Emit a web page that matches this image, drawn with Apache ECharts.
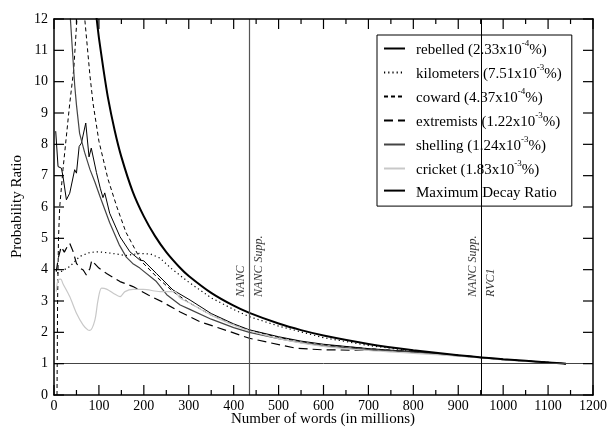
<!DOCTYPE html>
<html>
<head>
<meta charset="utf-8">
<script src="https://cdn.jsdelivr.net/npm/echarts@6/dist/echarts.min.js"></script>
<style>
html, body { margin: 0; padding: 0; background: #fff; }
#chart { width: 610px; height: 429px; }
</style>
</head>
<body>
<div id="chart"></div>
<script>
// values
const rebelledX = [3.8, 9, 16.5, 20, 27.6, 35, 39, 46, 50, 56, 61, 70.7, 78, 83, 94.5, 103, 109, 113, 124, 147, 169, 191, 200, 228, 265, 303, 350, 400, 435, 500, 550, 600, 700, 800, 900, 952, 1000, 1100, 1140]
const rebelledY = [8.42, 7.29, 7.24, 6.98, 6.23, 6.44, 6.5, 7.19, 7.08, 7.93, 8.04, 8.68, 7.6, 7.88, 7.1, 6.6, 6.3, 6.45, 5.8, 5.05, 4.57, 4.31, 4.28, 3.88, 3.35, 3.03, 2.6, 2.27, 2.08, 1.86, 1.72, 1.62, 1.48, 1.38, 1.26, 1.19, 1.13, 1.04, 1.0]

const kilometersX = [7, 16, 35, 57, 80, 100, 130, 160, 190, 215, 236, 260, 300, 350, 400, 435, 500, 600, 700, 800, 900, 952, 1000, 1100, 1140]
const kilometersY = [3.89, 3.94, 4.1, 4.42, 4.55, 4.57, 4.52, 4.45, 4.52, 4.5, 4.37, 4.05, 3.6, 3.1, 2.73, 2.5, 2.2, 1.83, 1.58, 1.4, 1.26, 1.19, 1.13, 1.04, 1.0]

const cowardX = [6.7, 8, 10, 12.7, 20, 35, 44, 51, 56, 64, 68.5, 80, 87, 100, 120, 140, 160, 195, 230, 265, 300, 350, 400, 435, 500, 550, 600, 700, 800, 900, 952, 1000, 1100, 1140]
const cowardY = [0, 3, 5, 6, 7.2, 9.3, 10.4, 12, 13.5, 13.5, 12, 10.2, 9.3, 8.1, 6.9, 6.0, 5.2, 4.26, 3.75, 3.3, 2.95, 2.55, 2.24, 2.07, 1.84, 1.7, 1.6, 1.48, 1.38, 1.26, 1.19, 1.13, 1.04, 1.0]

const extremistsX = [5, 10, 16, 19, 23, 30, 35, 42, 50, 58, 65, 72, 80, 84, 90, 100, 117, 147, 176, 210, 240, 281, 325, 392, 435, 503, 540, 600, 700, 800, 900, 952, 1000, 1100, 1140]
const extremistsY = [3.94, 4.4, 4.73, 4.77, 4.56, 4.75, 4.84, 4.6, 4.2, 4.05, 3.99, 3.83, 4.04, 4.3, 4.2, 4.05, 3.88, 3.62, 3.46, 3.19, 2.98, 2.65, 2.34, 2.02, 1.81, 1.6, 1.49, 1.44, 1.43, 1.38, 1.27, 1.2, 1.14, 1.04, 1.0]

const shellingX = [28, 36.5, 46, 50, 57, 68, 80, 91, 102, 124, 145, 161, 175, 191, 228, 251, 281, 300, 350, 400, 435, 500, 550, 600, 700, 800, 900, 952, 1000, 1100, 1140]
const shellingY = [14, 12, 9.9, 9.26, 8.35, 7.75, 7.2, 6.8, 6.35, 5.5, 4.8, 4.4, 4.2, 4.05, 3.62, 3.2, 2.87, 2.75, 2.42, 2.15, 2.0, 1.8, 1.67, 1.57, 1.45, 1.37, 1.25, 1.19, 1.13, 1.04, 1.0]

const cricketX = [5, 9, 15, 20, 35, 50, 65, 76, 80, 91, 98, 106, 117, 132, 147, 158, 176, 199, 236, 269, 280, 300, 350, 400, 435, 500, 600, 700, 800, 900, 952, 1000, 1100, 1140]
const cricketY = [3.3, 3.67, 3.7, 3.55, 3.14, 2.61, 2.23, 2.07, 2.06, 2.39, 3.03, 3.41, 3.38, 3.25, 3.14, 3.3, 3.37, 3.37, 3.3, 3.3, 3.1, 2.95, 2.55, 2.23, 2.05, 1.8, 1.55, 1.42, 1.33, 1.24, 1.18, 1.12, 1.03, 1.0]

const maxDecayX = [90, 95, 100, 110, 120, 135, 150, 175, 200, 225, 250, 280, 300, 350, 400, 435, 500, 550, 600, 700, 800, 900, 952, 1000, 1100, 1140]
const maxDecayY = [12.7, 12.0, 11.4, 10.4, 9.5, 8.45, 7.6, 6.5, 5.7, 5.07, 4.56, 4.07, 3.8, 3.26, 2.85, 2.62, 2.28, 2.07, 1.9, 1.63, 1.43, 1.27, 1.2, 1.14, 1.04, 1.0]

const freqs = {
  rebelled: ['2.33', '-4'],
  kilometers: ['7.51', '-3'],
  coward: ['4.37', '-4'],
  extremists: ['1.22', '-3'],
  shelling: ['1.24', '-3'],
  cricket: ['1.83', '-3']
}

// tick positions (drawn inward on all four sides)
const xTicks = [0, 100, 200, 300, 400, 500, 600, 700, 800, 900, 1000, 1100, 1200]
const xMinorTicks = [50, 150, 250, 350, 450, 550, 650, 750, 850, 950, 1050, 1150]
const yTicks = [0, 1, 2, 3, 4, 5, 6, 7, 8, 9, 10, 11, 12]

// corpus boundaries
const cutX = [435, 952]
const cutLeft = ['NANC', 'NANC Supp.']
const cutRight = ['NANC Supp.', 'RVC1']
const cutLabelY = 3.13

const serif = 'Liberation Serif'
const X_MAX = 1200
const Y_MAX = 12

function pairs(xs, ys) {
  return xs.map((x, i) => [x, ys[i]])
}

function lineSeries(name, xs, ys, style, extra) {
  return Object.assign({
    name: name,
    type: 'line',
    data: pairs(xs, ys),
    symbol: 'none',
    showSymbol: false,
    clip: true,
    animation: false,
    lineStyle: style,
    itemStyle: { color: style.color }
  }, extra || {})
}

const notes = []
cutX.forEach((x, i) => {
  notes.push({
    value: [x, cutLabelY],
    label: { formatter: cutLeft[i], position: [-3, 0], verticalAlign: 'bottom' }
  })
  notes.push({
    value: [x, cutLabelY],
    label: { formatter: cutRight[i], position: [3, 0], verticalAlign: 'top' }
  })
})

// [x, y, kind]: 0 = x major, 1 = x minor, 2 = y major
const tickData = []
xTicks.forEach(v => tickData.push([v, 0, 0]))
xMinorTicks.forEach(v => tickData.push([v, 0, 1]))
yTicks.forEach(v => tickData.push([0, v, 2]))

const tickStroke = { stroke: '#000', lineWidth: 1.2 }

function renderTick(params, api) {
  const kind = api.value(2)
  if (kind < 2) {
    const v = api.value(0)
    const len = kind === 0 ? 10 : 5
    const b = api.coord([v, 0])
    const t = api.coord([v, Y_MAX])
    return {
      type: 'group',
      children: [
        { type: 'line', shape: { x1: b[0], y1: b[1], x2: b[0], y2: b[1] - len }, style: tickStroke },
        { type: 'line', shape: { x1: t[0], y1: t[1], x2: t[0], y2: t[1] + len }, style: tickStroke }
      ]
    }
  }
  const v = api.value(1)
  const l = api.coord([0, v])
  const r = api.coord([X_MAX, v])
  return {
    type: 'group',
    children: [
      { type: 'line', shape: { x1: l[0], y1: l[1], x2: l[0] + 10, y2: l[1] }, style: tickStroke },
      { type: 'line', shape: { x1: r[0], y1: r[1], x2: r[0] - 10, y2: r[1] }, style: tickStroke }
    ]
  }
}

const chart = echarts.init(document.getElementById('chart'))

function axisBase() {
  return {
    z: 10,
    axisLine: { show: true, onZero: false, lineStyle: { color: '#000', width: 1.5 } },
    splitLine: { show: false },
    axisTick: { show: false }
  }
}

const option = {
  backgroundColor: '#fff',
  animation: false,
  grid: { left: 54, right: 17, top: 19, bottom: 34, containLabel: false, outerBoundsMode: 'none' },
  graphic: [
    {
      type: 'text', x: 323, y: 412,
      style: { text: 'Number of words (in millions)', font: '15px "Liberation Serif"', fill: '#000', textAlign: 'center' }
    },
    {
      type: 'text', x: 10, y: 258, rotation: Math.PI / 2,
      style: { text: 'Probability Ratio', font: '15px "Liberation Serif"', fill: '#000' }
    }
  ],
  legend: {
    data: ['rebelled', 'kilometers', 'coward', 'extremists', 'shelling', 'cricket', 'Maximum Decay Ratio'],
    orient: 'vertical',
    left: 377,
    top: 35,
    padding: [4, 10, 6, 6],
    itemGap: 5,
    itemWidth: 21,
    itemHeight: 19,
    backgroundColor: '#fff',
    borderColor: '#000',
    borderWidth: 1,
    borderRadius: 0,
    selectedMode: false,
    itemStyle: { opacity: 0, borderWidth: 0 },
    formatter: function (name) {
      const f = freqs[name]
      if (!f) return '{a|' + name + '}'
      return '{a|' + name + ' (' + f[0] + 'x10}{s|' + f[1] + '}{a|%)}'
    },
    textStyle: {
      padding: [0, 0, 0, 6],
      rich: {
        a: { fontFamily: serif, fontSize: 15, color: '#000', lineHeight: 19, verticalAlign: 'bottom' },
        s: { fontFamily: serif, fontSize: 9, color: '#000', verticalAlign: 'top', lineHeight: 9 }
      }
    }
  },
  xAxis: [
    Object.assign(axisBase(), {
      type: 'value', min: 0, max: X_MAX, interval: 100,
      axisLabel: { fontFamily: serif, fontSize: 14, color: '#000', margin: 4, formatter: v => String(v) }
    }),
    Object.assign(axisBase(), {
      type: 'value', min: 0, max: X_MAX, interval: 100, position: 'top',
      axisLabel: { show: false }
    })
  ],
  yAxis: [
    Object.assign(axisBase(), {
      type: 'value', min: 0, max: Y_MAX, interval: 1,
      axisLabel: { fontFamily: serif, fontSize: 14, color: '#000', margin: 6 }
    }),
    Object.assign(axisBase(), {
      type: 'value', min: 0, max: Y_MAX, interval: 1, position: 'right',
      axisLabel: { show: false }
    })
  ],
  series: [
    lineSeries('rebelled', rebelledX, rebelledY, { color: '#000', width: 1, type: 'solid' }),
    lineSeries('kilometers', kilometersX, kilometersY, { color: '#000', width: 1.2, type: [1.2, 3] }),
    lineSeries('coward', cowardX, cowardY, { color: '#000', width: 1, type: [4, 3] }),
    lineSeries('extremists', extremistsX, extremistsY, { color: '#000', width: 1.2, type: [9, 5] }),
    lineSeries('shelling', shellingX, shellingY, { color: '#444', width: 1.2, type: 'solid' }),
    lineSeries('cricket', cricketX, cricketY, { color: '#c8c8c8', width: 1.2, type: 'solid' }, { smooth: 0.3 }),
    lineSeries('Maximum Decay Ratio', maxDecayX, maxDecayY, { color: '#000', width: 2, type: 'solid' }, { smooth: 0.2 }),
    {
      name: 'guides',
      type: 'line',
      data: [],
      animation: false,
      markLine: {
        silent: true,
        symbol: 'none',
        animation: false,
        label: { show: false },
        data: [
          { yAxis: 1, lineStyle: { color: '#444', width: 1, type: 'solid' } },
          { xAxis: cutX[0], lineStyle: { color: '#555', width: 1.2, type: 'solid' } },
          { xAxis: cutX[1], lineStyle: { color: '#000', width: 1, type: 'solid' } }
        ]
      }
    },
    {
      name: 'ticks',
      type: 'custom',
      silent: true,
      clip: false,
      animation: false,
      z: 10,
      data: tickData,
      renderItem: renderTick
    },
    {
      name: 'notes',
      type: 'scatter',
      symbolSize: 0,
      silent: true,
      animation: false,
      data: notes,
      label: {
        show: true,
        rotate: 90,
        align: 'left',
        fontFamily: serif,
        fontStyle: 'italic',
        fontSize: 12,
        color: '#000'
      }
    }
  ]
}

chart.setOption(option)
</script>
</body>
</html>
